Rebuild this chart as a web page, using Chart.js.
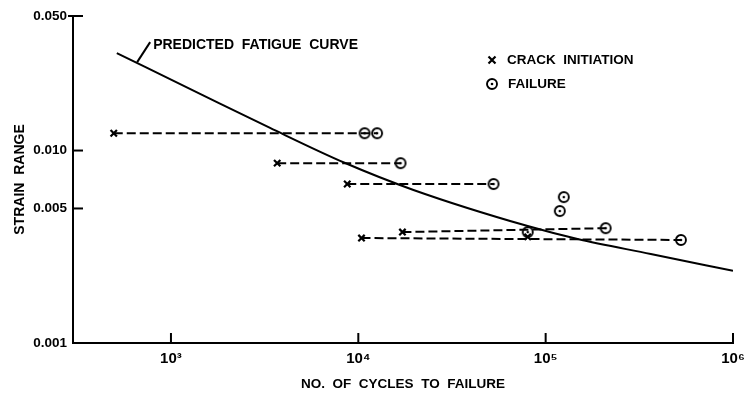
<!DOCTYPE html>
<html>
<head>
<meta charset="utf-8">
<script src="https://cdn.jsdelivr.net/npm/chart.js@4.4.1/dist/chart.umd.min.js"></script>
<style>
  html,body{margin:0;padding:0;background:#fff;}
  #wrap{width:753px;height:396px;}
</style>
</head>
<body>
<div id="wrap"><canvas id="c" width="753" height="396"></canvas></div>
<script>
// values (cycles, strain range)
const curveN=[514,1430,3380,8510,19700,80200,148000,364000,1000000];
const curveS=[0.0321,0.0197,0.0131,0.00861,0.00624,0.00405,0.00347,0.0029,0.00237];
const crackN=[495,3690,8730,17200,10400,80200];
const crackS=[0.0123,0.0086,0.0067,0.00377,0.00351,0.00356];
const failN=[12600,16800,52700,209000,527000,10800,80200,125000,119000];
const failS=[0.0123,0.0086,0.0067,0.00395,0.00343,0.0123,0.00377,0.00573,0.00485];
const spans=5; // first five cracks run to the first five failures
const xTicks=[1e3,1e4,1e5,1e6];
const yTicks=[0.001,0.005,0.01,0.05];
const annotAt={x:660,y:0.0288};

const INK='#000';
const FONT='"Liberation Sans", Arial, sans-serif';
const sup={3:'³',4:'⁴',5:'⁵',6:'⁶'};

function ringDot(){
  const c=document.createElement('canvas'); c.width=c.height=14;
  const g=c.getContext('2d');
  g.strokeStyle=INK; g.lineWidth=1.9;
  g.beginPath(); g.arc(7,7,5,0,Math.PI*2); g.stroke();
  g.fillStyle=INK; g.beginPath(); g.arc(7,7,1.3,0,Math.PI*2); g.fill();
  return c;
}
const failImg=ringDot();

const pts=(xs,ys)=>xs.map((x,i)=>({x,y:ys[i]}));

const datasets=[{
  data:pts(curveN,curveS), borderColor:INK, borderWidth:2, pointRadius:0,
  cubicInterpolationMode:'monotone', fill:false
}];
for(let i=0;i<spans;i++){
  datasets.push({data:[{x:crackN[i],y:crackS[i]},{x:failN[i],y:failS[i]}],
    borderColor:INK, borderWidth:2, borderDash:[9,4], pointRadius:0, fill:false});
}
datasets.push({data:pts(crackN,crackS), showLine:false, pointStyle:'crossRot',
  pointRadius:4.5, borderColor:INK, borderWidth:2.2});
datasets.push({data:pts(failN,failS), showLine:false, pointStyle:failImg,
  pointRadius:7, borderColor:INK});

// hand-lettered extras: tick marks, legend, curve note
const extras={
  id:'extras',
  afterDraw(chart){
    const {ctx,scales:{x,y}}=chart;
    ctx.save();
    ctx.strokeStyle=INK; ctx.lineWidth=2;
    yTicks.forEach(v=>{
      if(v===0.001) return;
      const py=y.getPixelForValue(v);
      ctx.beginPath(); ctx.moveTo(v===0.05?x.left-5:x.left,py); ctx.lineTo(x.left+10,py); ctx.stroke();
    });
    xTicks.forEach(v=>{
      const px=x.getPixelForValue(v);
      ctx.beginPath(); ctx.moveTo(px,y.bottom); ctx.lineTo(px,y.bottom-10); ctx.stroke();
    });
    // legend
    const lx=492, ly=60;
    ctx.lineWidth=2.2;
    ctx.beginPath();
    ctx.moveTo(lx-3.5,ly-3.5); ctx.lineTo(lx+3.5,ly+3.5);
    ctx.moveTo(lx+3.5,ly-3.5); ctx.lineTo(lx-3.5,ly+3.5);
    ctx.stroke();
    ctx.drawImage(failImg,lx-7,ly+24-7);
    ctx.fillStyle=INK; ctx.font='bold 13.5px '+FONT;
    ctx.textAlign='left'; ctx.textBaseline='middle';
    ctx.fillText('CRACK  INITIATION',lx+15,ly);
    ctx.fillText('FAILURE',lx+16,ly+24);
    // predicted curve note
    const ax=x.getPixelForValue(annotAt.x), ay=y.getPixelForValue(annotAt.y);
    ctx.lineWidth=2;
    ctx.beginPath(); ctx.moveTo(ax,ay); ctx.lineTo(ax+13,ay-20); ctx.stroke();
    ctx.font='bold 14px '+FONT;
    ctx.fillText('PREDICTED  FATIGUE  CURVE',ax+16,ay-17);
    ctx.restore();
  }
};

new Chart(document.getElementById('c'),{
  type:'line',
  data:{datasets},
  plugins:[extras],
  options:{
    responsive:false, animation:false,
    layout:{padding:{top:16,right:20,left:0,bottom:0}},
    plugins:{legend:{display:false},tooltip:{enabled:false}},
    scales:{
      x:{
        type:'logarithmic', position:'bottom', min:300, max:1e6,
        grid:{display:false,drawTicks:false,tickLength:0}, border:{display:true,color:INK,width:2},
        afterBuildTicks:s=>{s.ticks=xTicks.map(v=>({value:v}));},
        afterFit:s=>{s.height=53;},
        ticks:{color:INK,padding:7,maxRotation:0,autoSkip:false,
          font:{family:FONT,size:15,weight:'bold'},
          callback:v=>'10'+sup[Math.round(Math.log10(v))]},
        title:{display:true,text:'NO.  OF  CYCLES  TO  FAILURE',color:INK,
          font:{family:FONT,size:13.5,weight:'bold'},padding:{top:0,bottom:4}}
      },
      y:{
        type:'logarithmic', position:'left', min:0.001, max:0.05,
        grid:{display:false,drawTicks:false,tickLength:0}, border:{display:true,color:INK,width:2},
        afterBuildTicks:s=>{s.ticks=yTicks.map(v=>({value:v}));},
        afterFit:s=>{s.width=73;},
        ticks:{color:INK,padding:6,autoSkip:false,
          font:{family:FONT,size:13.5,weight:'bold'},
          callback:v=>v.toFixed(3)},
        title:{display:true,text:'STRAIN  RANGE',color:INK,
          font:{family:FONT,size:14,weight:'bold'},padding:{top:12,bottom:0}}
      }
    }
  }
});
</script>
</body>
</html>
